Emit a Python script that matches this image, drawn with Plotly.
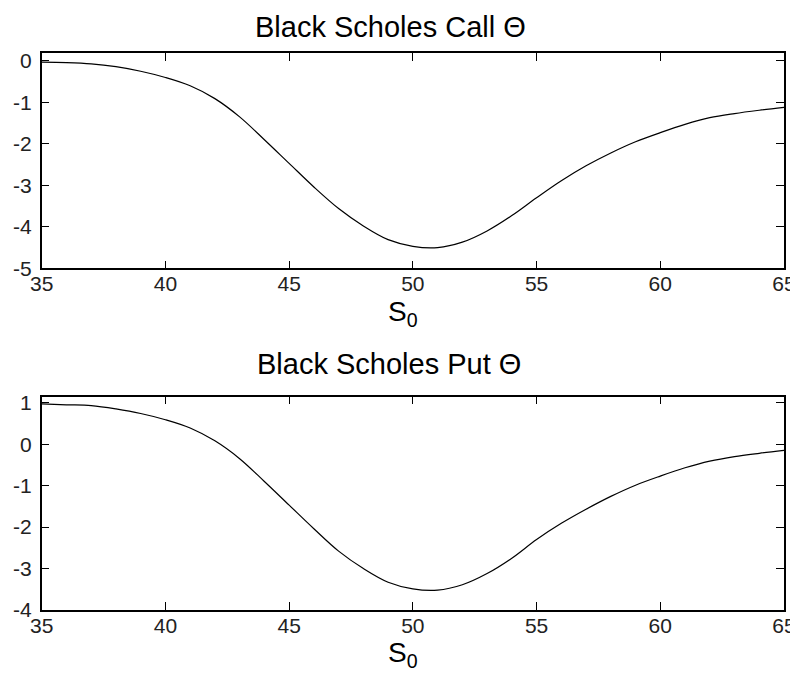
import plotly.graph_objects as go

# Data
S0 = [35, 36, 37, 38, 39, 40, 41, 42, 43, 44, 45, 46, 47, 48, 49, 50,
      51, 52, 53, 54, 55, 56, 57, 58, 59, 60, 61, 62, 63, 64, 65]
call_theta = [-0.03, -0.04, -0.07, -0.14, -0.25, -0.40, -0.60, -0.91, -1.35, -1.90,
              -2.47, -3.04, -3.56, -3.98, -4.31, -4.47, -4.50, -4.37, -4.10, -3.73,
              -3.30, -2.89, -2.53, -2.22, -1.95, -1.73, -1.53, -1.37, -1.27, -1.19, -1.12]
put_theta = [0.97, 0.95, 0.93, 0.85, 0.74, 0.59, 0.39, 0.08, -0.35, -0.90,
             -1.47, -2.04, -2.58, -3.00, -3.33, -3.49, -3.52, -3.39, -3.12, -2.75,
             -2.30, -1.91, -1.57, -1.26, -0.99, -0.77, -0.57, -0.41, -0.30, -0.22, -0.15]
x_ticks = [35, 40, 45, 50, 55, 60, 65]
call_yticks = [-5, -4, -3, -2, -1, 0]
put_yticks = [-4, -3, -2, -1, 0, 1]

OFF = 8  # page body margin
W, H = 798 - OFF, 681 - OFF
FONT = "Liberation Sans"

def px(x):
    return (x - OFF) / W

def py(y):
    return 1 - (y - OFF) / H

fig = go.Figure()
fig.add_trace(go.Scatter(x=S0, y=call_theta, mode="lines", line=dict(color="black", width=1.2, shape="spline"),
                         xaxis="x", yaxis="y", showlegend=False))
fig.add_trace(go.Scatter(x=S0, y=put_theta, mode="lines", line=dict(color="black", width=1.2, shape="spline"),
                         xaxis="x2", yaxis="y2", showlegend=False))

axcommon = dict(showline=True, mirror="ticks", ticks="inside", ticklen=8, tickwidth=1.3,
                linecolor="black", tickcolor="black", linewidth=1.5, showgrid=False, zeroline=False,
                automargin=False, tickfont=dict(family=FONT, size=21, color="#222"))

def labels(vals):
    return [str(v) for v in vals]

xd = [px(41.7), px(784)]
fig.update_layout(
    width=W, height=H,
    margin=dict(l=0, r=0, t=0, b=0, pad=0),
    paper_bgcolor="white", plot_bgcolor="white",
    xaxis=dict(domain=xd, range=[35, 65], tickvals=x_ticks, ticktext=labels(x_ticks), anchor="y",
               ticklabelstandoff=-4, **axcommon),
    yaxis=dict(domain=[py(268.3), py(53)], range=[-5, 0.19], tickvals=call_yticks,
               ticktext=labels(call_yticks), anchor="x", ticklabelstandoff=4, **axcommon),
    xaxis2=dict(domain=xd, range=[35, 65], tickvals=x_ticks, ticktext=labels(x_ticks), anchor="y2",
                ticklabelstandoff=-4, **axcommon),
    yaxis2=dict(domain=[py(610), py(396.7)], range=[-4, 1.145], tickvals=put_yticks,
                ticktext=labels(put_yticks), anchor="x2", ticklabelstandoff=4, **axcommon),
)

def ann(text, xp, yp, size):
    fig.add_annotation(text=text, xref="paper", yref="paper", x=px(xp), y=py(yp),
                       xanchor="center", yanchor="middle", showarrow=False,
                       font=dict(family=FONT, size=size, color="black"))

ann("Black Scholes Call Θ", 390, 27, 29)
ann("Black Scholes Put Θ", 389, 364, 29)
ann("S<sub>0</sub>", 403, 314, 28)
ann("S<sub>0</sub>", 403, 654, 28)

fig.write_html("out.html")
